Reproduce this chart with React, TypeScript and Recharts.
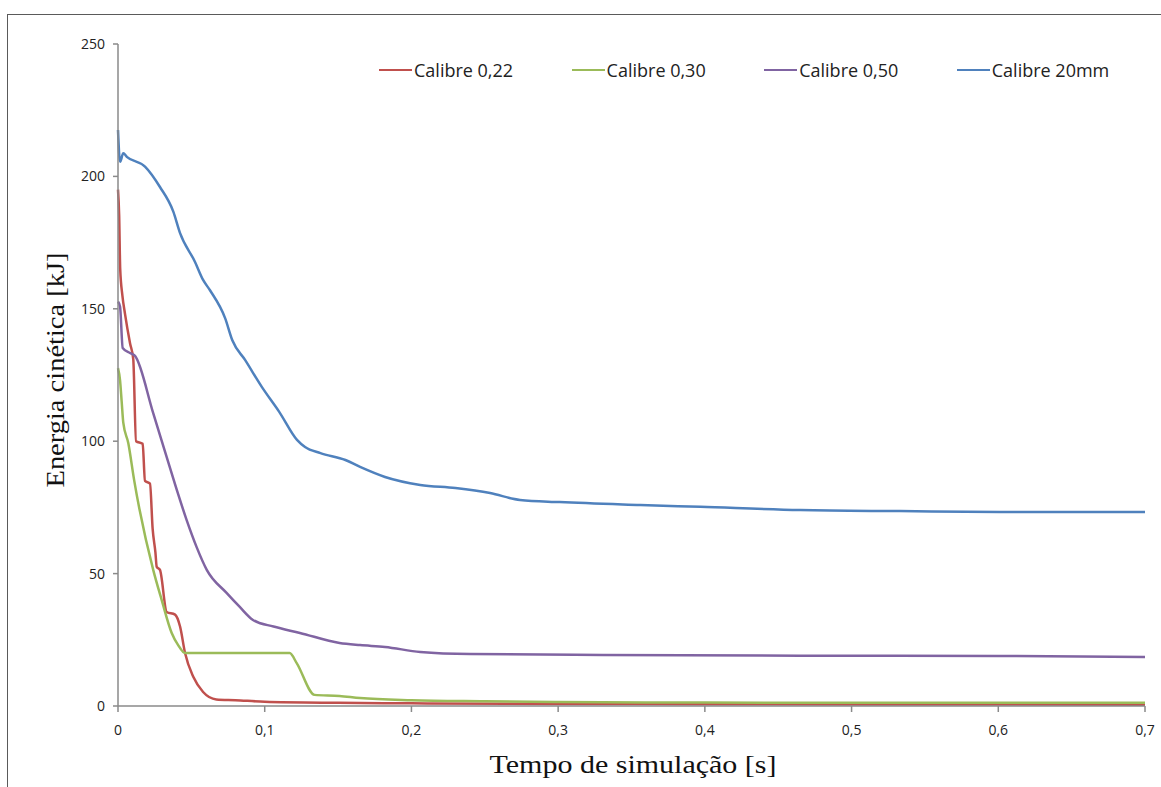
import React from 'react';
import { LineChart, Line, XAxis, YAxis, Legend, Label } from 'recharts';

// Tempo (s) e energia cinética (kJ), por calibre
const t22 = [0, 0.0008, 0.0015, 0.003, 0.0048, 0.0082, 0.0104, 0.0123, 0.0168, 0.0184, 0.0218, 0.0236, 0.0255, 0.0264, 0.0286, 0.0332, 0.0389, 0.0423, 0.0457, 0.0513, 0.058, 0.067, 0.08, 0.1, 0.15, 0.2, 0.3, 0.4, 0.5, 0.7];
const e22 = [195, 185, 165, 155, 148, 137, 131, 100, 99, 85, 84, 67, 58, 52.5, 51.4, 35.5, 34.5, 30, 20, 11, 5.3, 2.5, 2.2, 1.6, 1.2, 1.0, 0.8, 0.7, 0.6, 0.5];

const t30 = [0, 0.0014, 0.0025, 0.0036, 0.007, 0.011, 0.024, 0.0298, 0.0366, 0.041, 0.0457, 0.117, 0.1218, 0.134, 0.151, 0.165, 0.2, 0.25, 0.3, 0.4, 0.5, 0.7];
const e30 = [127.6, 123, 115, 107, 99.3, 85.3, 51.4, 40, 27.6, 23, 20, 20, 16.2, 4.2, 3.8, 3, 2.2, 1.8, 1.5, 1.3, 1.2, 1.2];

const t50 = [0, 0.0014, 0.0032, 0.0082, 0.0116, 0.024, 0.0332, 0.041, 0.0468, 0.0536, 0.0605, 0.074, 0.083, 0.092, 0.106, 0.124, 0.151, 0.165, 0.182, 0.206, 0.24, 0.33, 0.465, 0.6, 0.7];
const e50 = [152.7, 150.8, 135.2, 133.3, 132.2, 110.6, 94, 80, 70.2, 60, 51.4, 42.7, 37.4, 32.5, 30, 27.6, 23.8, 23, 22.3, 20.4, 19.6, 19.3, 19, 18.9, 18.5];

const t20mm = [0, 0.0014, 0.0036, 0.006, 0.0184, 0.0286, 0.0377, 0.0423, 0.0525, 0.058, 0.0627, 0.073, 0.078, 0.0866, 0.098, 0.11, 0.122, 0.1275, 0.138, 0.155, 0.165, 0.182, 0.206, 0.23, 0.2536, 0.274, 0.301, 0.356, 0.397, 0.465, 0.533, 0.601, 0.7];
const e20mm = [217.5, 205.5, 208.7, 207.4, 203.7, 196, 186.7, 178.6, 167.7, 160.9, 157, 146.5, 138, 130.7, 120.5, 111, 100.5, 97.8, 95.5, 92.9, 90.3, 86.5, 83.5, 82.3, 80.4, 77.8, 77, 75.9, 75.2, 74, 73.6, 73.3, 73.3];

const xTicks = [0, 0.1, 0.2, 0.3, 0.4, 0.5, 0.6, 0.7];
const yTicks = [0, 50, 100, 150, 200, 250];

const toRows = (ts: number[], es: number[]) => ts.map((t, i) => ({ t, e: es[i] }));

const series = [
  { name: 'Calibre 0,22', color: '#C0504D', data: toRows(t22, e22) },
  { name: 'Calibre 0,30', color: '#9BBB59', data: toRows(t30, e30) },
  { name: 'Calibre 0,50', color: '#8064A2', data: toRows(t50, e50) },
  { name: 'Calibre 20mm', color: '#4F81BD', data: toRows(t20mm, e20mm) },
];

const fmtX = (v: number) => (v === 0 ? '0' : v.toFixed(1).replace('.', ','));

const renderLegend = () => (
  <div style={{ display: 'flex', fontFamily: '"Open Sans", sans-serif', fontSize: 18, color: '#222' }}>
    {series.map((s) => (
      <div key={s.name} style={{ width: 192.6, display: 'flex', alignItems: 'center' }}>
        <span style={{ display: 'inline-block', width: 33, height: 2.5, background: s.color, marginRight: 2 }} />
        <span>{s.name}</span>
      </div>
    ))}
  </div>
);

export default function App() {
  return (
    <div style={{ position: 'absolute', left: 0, top: 0, width: 1161, height: 787, background: '#fff', overflow: 'hidden' }}>
      <div style={{ position: 'absolute', left: 7, top: 14, width: 1170, height: 800, borderTop: '1px solid #5a5a5a', borderLeft: '1px solid #5a5a5a' }} />
      <LineChart width={1161} height={787} margin={{ top: 44, right: 16, bottom: 0, left: 0 }}>
        <XAxis
          type="number"
          dataKey="t"
          domain={[0, 0.7]}
          ticks={xTicks}
          tickFormatter={fmtX}
          height={81}
          stroke="#8a8a8a"
          strokeWidth={1.5}
          tickSize={6}
          tickMargin={13}
          tick={{ fill: '#222', fontSize: 14, fontFamily: '"Open Sans", sans-serif' }}
        >
          <Label
            content={() => (
              <text x={633} y={773} textAnchor="middle" textLength={287} lengthAdjust="spacingAndGlyphs"
                style={{ fontFamily: '"Liberation Serif", serif', fontSize: 25, fill: '#111' }}>
                Tempo de simulação [s]
              </text>
            )}
          />
        </XAxis>
        <YAxis
          type="number"
          domain={[0, 250]}
          ticks={yTicks}
          width={118}
          stroke="#8a8a8a"
          strokeWidth={1.5}
          tickSize={5}
          tickMargin={8}
          tick={{ fill: '#222', fontSize: 14, fontFamily: '"Open Sans", sans-serif' }}
        >
          <Label
            content={() => (
              <text x={64} y={370} transform="rotate(-90, 64, 370)" textAnchor="middle" textLength={235} lengthAdjust="spacingAndGlyphs"
                style={{ fontFamily: '"Liberation Serif", serif', fontSize: 25, fill: '#111' }}>
                Energia cinética [kJ]
              </text>
            )}
          />
        </YAxis>
        <Legend
          layout="horizontal"
          verticalAlign="middle"
          align="center"
          content={renderLegend}
          wrapperStyle={{ top: 58, left: 379, width: 780 }}
        />
        {series.map((s) => (
          <Line
            key={s.name}
            data={s.data}
            dataKey="e"
            name={s.name}
            type="monotone"
            stroke={s.color}
            strokeWidth={2.5}
            dot={false}
            activeDot={false}
            isAnimationActive={false}
          />
        ))}
      </LineChart>
    </div>
  );
}
